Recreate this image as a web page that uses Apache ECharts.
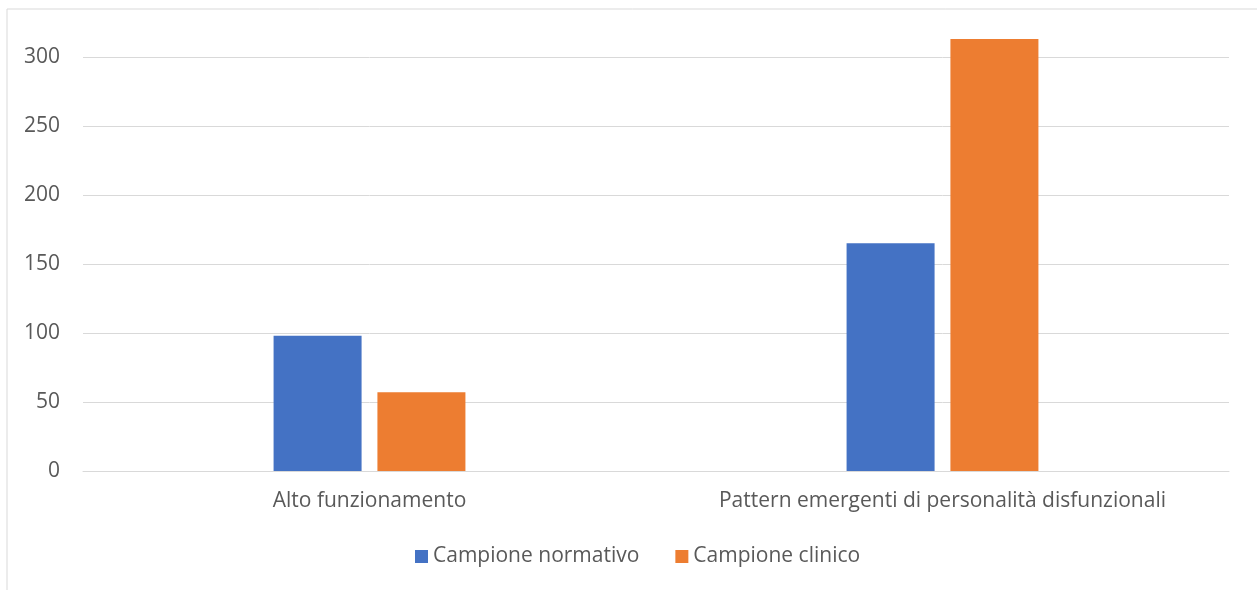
<!DOCTYPE html>
<html>
<head>
<meta charset="utf-8">
<script src="https://cdn.jsdelivr.net/npm/echarts@6/dist/echarts.min.js"></script>
<style>
html,body{margin:0;padding:0;background:#fff;}
#c{width:1257px;height:590px;}
</style>
</head>
<body>
<div id="c"></div>
<script>
const categories = ['Alto funzionamento', 'Pattern emergenti di personalità disfunzionali'];
const seriesNames = ['Campione normativo', 'Campione clinico'];
const normativo = [98, 165];
const clinico = [57, 313];
const yTicks = [0, 50, 100, 150, 200, 250, 300];

const chart = echarts.init(document.getElementById('c'));
const font = '"Open Sans", "Noto Sans", sans-serif';
chart.setOption({
  animation: false,
  textStyle: { fontFamily: font },
  graphic: [{
    type: 'rect',
    shape: { x: 7, y: 9, width: 1300, height: 640 },
    style: { fill: 'none', stroke: '#d9d9d9', lineWidth: 1 },
    silent: true
  }],
  grid: { left: 83, right: 28, top: 57, bottom: 119 },
  legend: {
    left: 410, top: 541,
    itemWidth: 13, itemHeight: 13, itemGap: 36,
    icon: 'rect',
    textStyle: { color: '#595959', fontSize: 21, fontFamily: font },
    data: seriesNames
  },
  xAxis: {
    type: 'category',
    data: categories,
    axisLine: { lineStyle: { color: '#d9d9d9', width: 1 } },
    axisTick: { show: false },
    axisLabel: { color: '#595959', fontSize: 21, margin: 20, fontFamily: font, interval: 0, hideOverlap: false }
  },
  yAxis: {
    type: 'value',
    min: yTicks[0], max: yTicks[yTicks.length - 1], interval: 50,
    axisLine: { show: false },
    axisTick: { show: false },
    axisLabel: { color: '#595959', fontSize: 21, margin: 23, fontFamily: font },
    splitLine: { lineStyle: { color: '#d9d9d9', width: 1 } }
  },
  series: [
    { name: seriesNames[0], type: 'bar', data: normativo, barWidth: 88, barGap: '18%', clip: false,
      itemStyle: { color: '#4472c4' } },
    { name: seriesNames[1], type: 'bar', data: clinico, barWidth: 88, barGap: '18%', clip: false,
      itemStyle: { color: '#ed7d31' } }
  ]
});
</script>
</body>
</html>
